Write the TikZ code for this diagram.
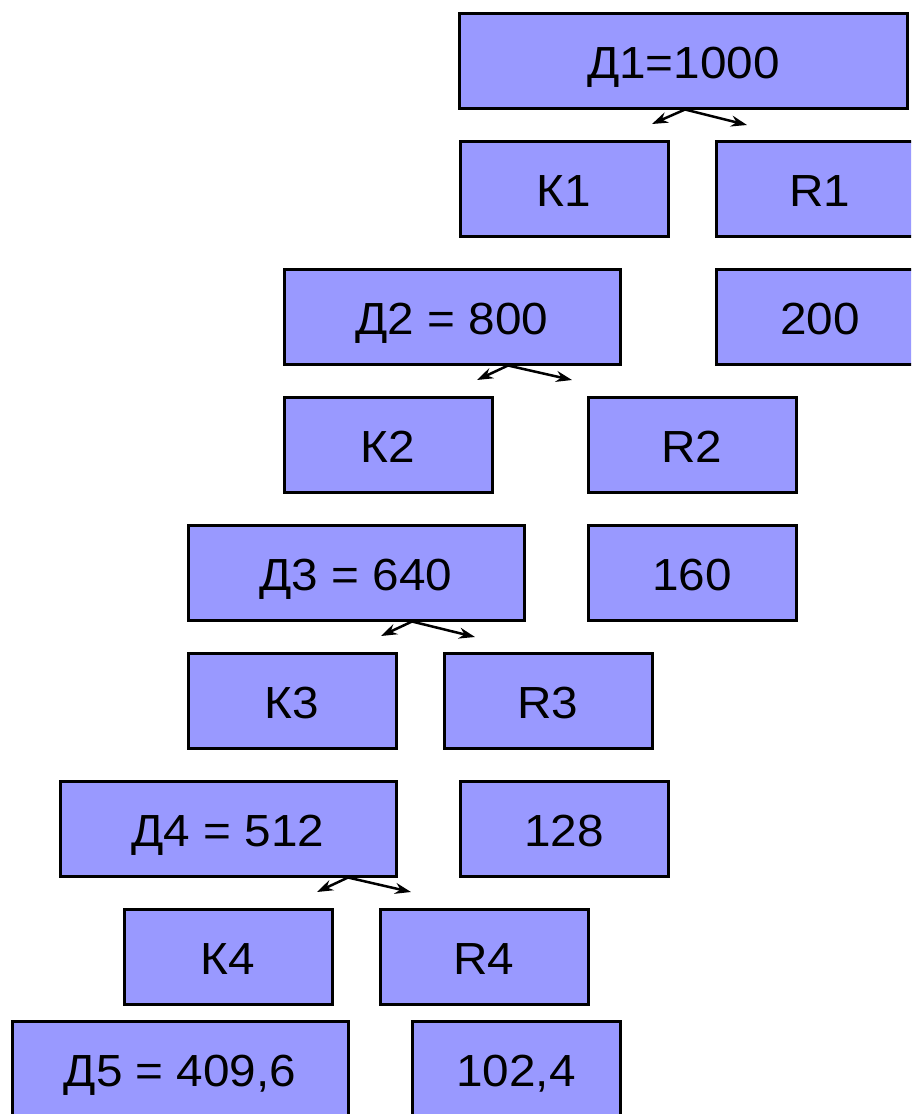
\documentclass[tikz,border=0pt]{standalone}
\usepackage{fontspec}
\setmainfont{Liberation Sans}[FakeStretch=1.06]
\usetikzlibrary{arrows.meta}
\definecolor{boxfill}{HTML}{9999FF}
\tikzset{
  box/.style={draw=black, line width=3pt, fill=boxfill, minimum height=95pt,
    inner sep=0pt, text height=35pt, text depth=0pt,
    font=\fontsize{45}{54}\selectfont, text=black},
  sbox/.style={box, minimum width=208pt},
  wbox/.style={box, minimum width=336pt},
  arr/.style={line width=2.5pt, -{Stealth[length=16pt,width=11pt]}}
}
\begin{document}
\begin{tikzpicture}[x=1pt,y=-1pt]
\useasboundingbox (0,0) rectangle (911,1114);
\clip (0,0) rectangle (911,1114);
\node[box, minimum width=448pt] (d1) at (683.5,60.5) {Д1=1000};
\node[sbox] (k1) at (564,188.5) {К1};
\node[sbox] (r1) at (820,188.5) {R1};
\node[wbox] (d2) at (452,316.5) {Д2 = 800};
\node[sbox] (v1) at (820,316.5) {200};
\node[sbox] (k2) at (388,444.5) {К2};
\node[sbox] (r2) at (692,444.5) {R2};
\node[wbox] (d3) at (356,572.5) {Д3 = 640};
\node[sbox] (v2) at (692,572.5) {160};
\node[sbox] (k3) at (292,700.5) {К3};
\node[sbox] (r3) at (548,700.5) {R3};
\node[wbox] (d4) at (228,828.5) {Д4 = 512};
\node[sbox] (v3) at (564,828.5) {128};
\node[sbox] (k4) at (228,956.5) {К4};
\node[sbox] (r4) at (484,956.5) {R4};
\node[wbox] (d5) at (180,1068.5) {Д5 = 409,6};
\node[sbox] (v4) at (516,1068.5) {102,4};
% arrow tips (free ends)
\coordinate (a1l) at (652,124); \coordinate (a1r) at (747,125);
\coordinate (a2l) at (477,380); \coordinate (a2r) at (572,380);
\coordinate (a3l) at (381,636); \coordinate (a3r) at (475,637);
\coordinate (a4l) at (317,892); \coordinate (a4r) at (411,892);
\draw[arr] ([xshift=1.5pt]d1.south) -- (a1l);
\draw[arr] ([xshift=1.5pt]d1.south) -- (a1r);
\draw[arr] ([xshift=56pt]d2.south) -- (a2l);
\draw[arr] ([xshift=56pt]d2.south) -- (a2r);
\draw[arr] ([xshift=56pt]d3.south) -- (a3l);
\draw[arr] ([xshift=56pt]d3.south) -- (a3r);
\draw[arr] ([xshift=120pt]d4.south) -- (a4l);
\draw[arr] ([xshift=120pt]d4.south) -- (a4r);
\end{tikzpicture}
\end{document}
